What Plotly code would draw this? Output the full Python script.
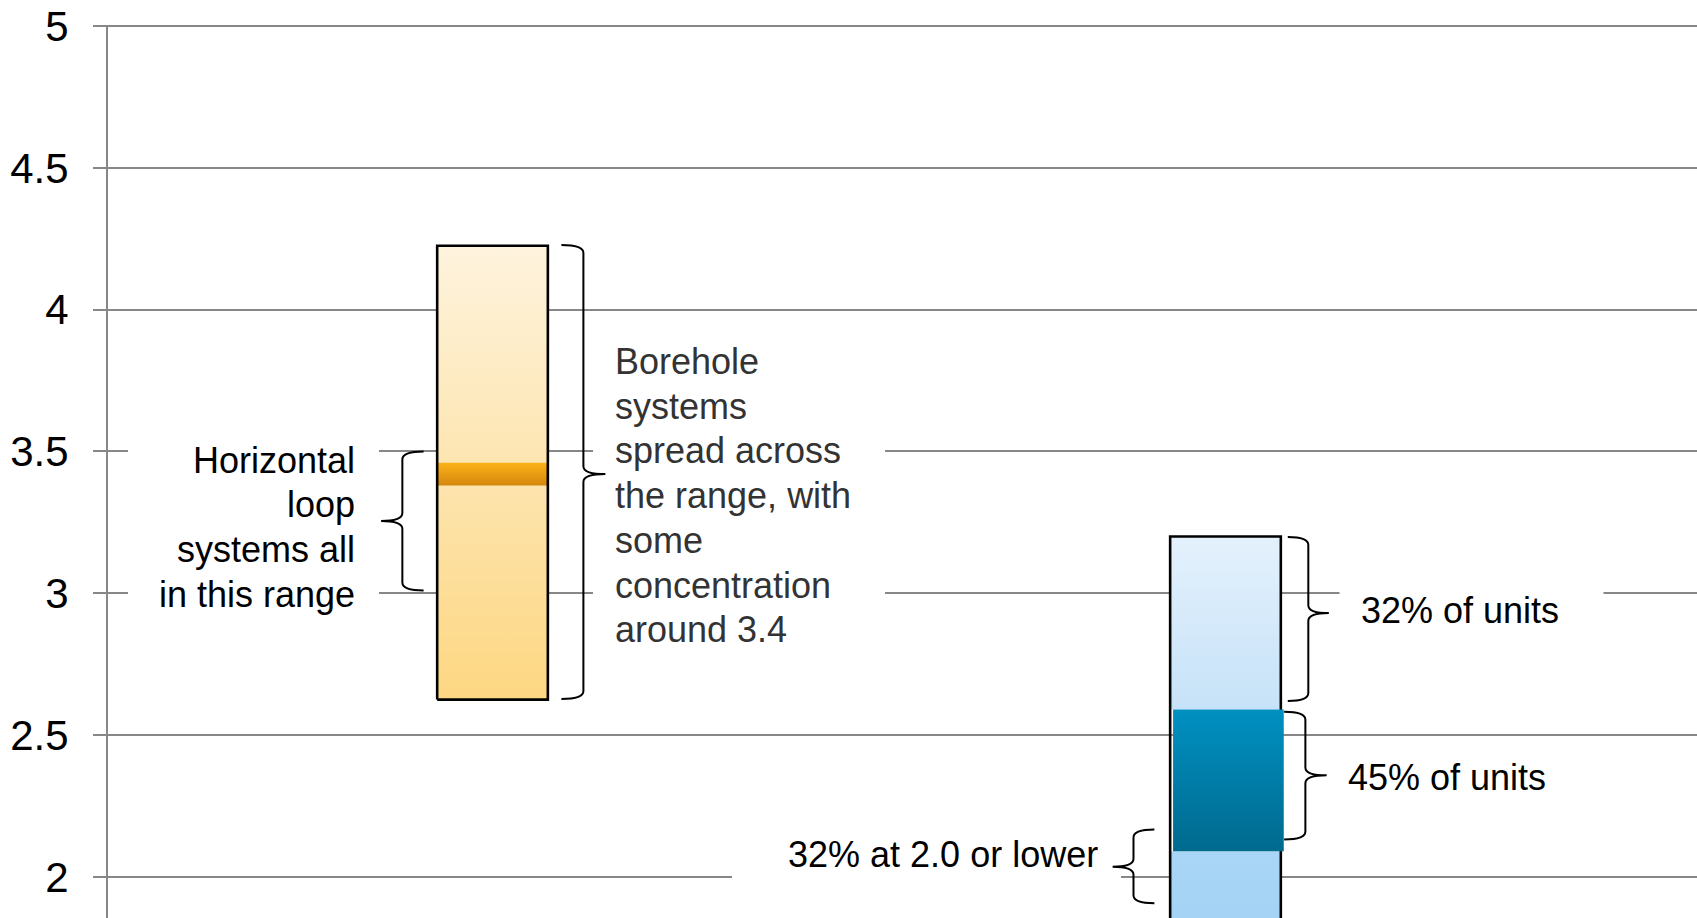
import plotly.graph_objects as go

# ---- data ----
bar_positions = [0, 1]                    # category slots on the x axis
bar_width = 0.151

# Orange (borehole) bar: full range and concentration band
orange_low, orange_high = 2.625, 4.225
band_low, band_high = 3.38, 3.46

# Blue bar segments (low, high)
blue_lower = (1.5, 2.09)
blue_dark = (2.09, 2.59)
blue_upper = (2.59, 3.2)

y_ticks = [2, 2.5, 3, 3.5, 4, 4.5, 5]
y_tick_labels = ["2", "2.5", "3", "3.5", "4", "4.5", "5"]

# braces: (x_left, x_right, y_low, y_high, y_tip, direction)
braces = [
    (-0.152, -0.094, 3.01, 3.50, 3.255, "left"),
    (0.094, 0.154, 2.627, 4.228, 3.42, "right"),
    (1.085, 1.141, 2.62, 3.198, 2.93, "right"),
    (1.080, 1.138, 2.132, 2.582, 2.358, "right"),
    (0.846, 0.903, 1.907, 2.167, 2.036, "left"),
]

hl_lines = ["Horizontal", "loop", "systems all", "in this range"]
bh_lines = ["Borehole", "systems", "spread across", "the range, with",
            "some", "concentration", "around 3.4"]
label_32 = "32% of units"
label_45 = "45% of units"
label_low = "32% at 2.0 or lower"

FONT = "Liberation Sans, Arial, sans-serif"
GRID = "#878787"

fig = go.Figure()

def seg(xc, lo, hi, c_bottom, c_top, name):
    x0, x1 = xc - bar_width / 2, xc + bar_width / 2
    fig.add_trace(go.Scatter(
        x=[x0, x1, x1, x0, x0], y=[lo, lo, hi, hi, lo],
        fill="toself", mode="lines", line=dict(width=0, color="rgba(0,0,0,0)"),
        fillgradient=dict(type="vertical",
                          colorscale=[[0, c_bottom], [1, c_top]]),
        hoverinfo="skip", showlegend=False, name=name))

def outline(xc, lo, hi):
    x0, x1 = xc - bar_width / 2, xc + bar_width / 2
    fig.add_trace(go.Scatter(
        x=[x0, x1, x1, x0, x0], y=[lo, lo, hi, hi, lo],
        mode="lines", line=dict(width=2.6, color="#000000"),
        hoverinfo="skip", showlegend=False))

# orange bar
seg(bar_positions[0], orange_low, orange_high, "#FDD782", "#FEF3DD", "borehole")
seg(bar_positions[0], band_low, band_high, "#D4860C", "#FDB31A", "band")
outline(bar_positions[0], orange_low, orange_high)

# blue bar
seg(bar_positions[1], blue_lower[0], blue_lower[1], "#9DCEF3", "#A9D6F6", "lower")
seg(bar_positions[1], blue_upper[0], blue_upper[1], "#C6E2F8", "#E4F1FC", "upper")
outline(bar_positions[1], blue_lower[0], blue_upper[1])
seg(bar_positions[1] + 0.004, blue_dark[0], blue_dark[1], "#006A8E", "#0090C1", "dark")

# top gridline (at the plot edge plotly does not draw it)
fig.add_shape(type="line", xref="paper", yref="y", x0=0, x1=1,
              y0=max(y_ticks), y1=max(y_ticks),
              line=dict(color=GRID, width=2), layer="between")

# white text-box backgrounds hiding the gridlines
boxes = [
    (-0.4973, -0.1549, 2.9, 3.6),
    (0.1371, 0.5355, 2.7, 3.9),
    (1.1556, 1.5157, 2.8, 3.15),
    (0.3268, 0.8574, 1.95, 2.2),
]
for x0, x1, y0, y1 in boxes:
    fig.add_shape(type="rect", xref="x", yref="y", x0=x0, x1=x1, y0=y0, y1=y1,
                  fillcolor="white", line=dict(width=0), layer="between")

# braces
c = 0.028
for xl, xr, lo, hi, tip, d in braces:
    xm = (xl + xr) / 2
    if d == "right":
        xs, xt = xl, xr
    else:
        xs, xt = xr, xl
    p = (f"M {xs},{hi} Q {xm},{hi} {xm},{hi - c} L {xm},{tip + c} "
         f"Q {xm},{tip} {xt},{tip} Q {xm},{tip} {xm},{tip - c} "
         f"L {xm},{lo + c} Q {xm},{lo} {xs},{lo}")
    fig.add_shape(type="path", xref="x", yref="y", path=p,
                  line=dict(color="#000000", width=2), layer="above")

LINE = 44.7
for i, t in enumerate(hl_lines):
    fig.add_annotation(x=-0.1849, y=3.469, xref="x", yref="y", text=t,
                       showarrow=False, xanchor="right", yanchor="middle",
                       yshift=-i * LINE,
                       font=dict(family=FONT, size=36, color="#000000"))
for i, t in enumerate(bh_lines):
    fig.add_annotation(x=0.1638, y=3.817, xref="x", yref="y", text=t,
                       showarrow=False, xanchor="left", yanchor="middle",
                       yshift=-i * LINE,
                       font=dict(family=FONT, size=36, color="#333333"))
fig.add_annotation(x=1.1825, y=2.939, xref="x", yref="y", text=label_32,
                   showarrow=False, xanchor="left", yanchor="middle",
                   font=dict(family=FONT, size=36, color="#000000"))
fig.add_annotation(x=1.1644, y=2.352, xref="x", yref="y", text=label_45,
                   showarrow=False, xanchor="left", yanchor="middle",
                   font=dict(family=FONT, size=36, color="#000000"))
fig.add_annotation(x=0.8288, y=2.08, xref="x", yref="y", text=label_low,
                   showarrow=False, xanchor="right", yanchor="middle",
                   font=dict(family=FONT, size=36, color="#000000"))

fig.update_layout(
    width=1697, height=918,
    margin=dict(l=108, r=0, t=25, b=0),
    paper_bgcolor="white", plot_bgcolor="white",
    showlegend=False,
    xaxis=dict(range=[-0.5246, 1.6433], visible=False, fixedrange=True),
    yaxis=dict(range=[1.855, 5.0035], tickvals=y_ticks, ticktext=y_tick_labels,
               showgrid=True, gridcolor=GRID, gridwidth=2,
               showline=True, linecolor=GRID, linewidth=2,
               ticks="outside", ticklen=13, tickcolor=GRID, tickwidth=2,
               ticklabelstandoff=16, zeroline=False,
               tickfont=dict(family=FONT, size=42, color="#000000")),
)

fig.write_html(
    "out.html",
    config={"displayModeBar": False},
    post_script="document.body.style.margin='0';"
                "document.body.style.overflow='hidden';",
)
